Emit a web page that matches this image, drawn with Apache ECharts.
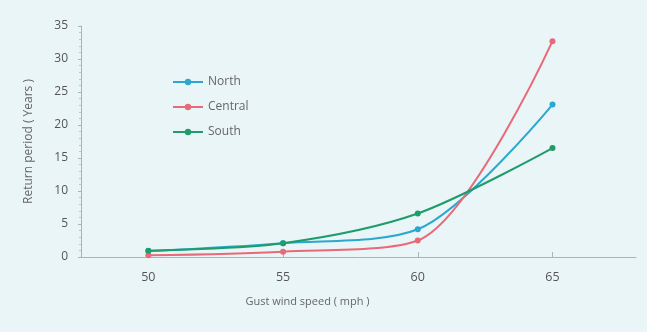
<!DOCTYPE html>
<html><head><meta charset="utf-8">
<script src="https://cdn.jsdelivr.net/npm/echarts@6/dist/echarts.min.js"></script>
<style>html,body{margin:0;padding:0;background:#eaf5f8;}#c{width:647px;height:332px;}</style>
</head><body><div id="c"></div>
<script>
var speeds = [50, 55, 60, 65];
var north = [0.9, 2.1, 4.2, 23.1];
var central = [0.25, 0.8, 2.5, 32.7];
var south = [0.95, 2.1, 6.6, 16.5];
var yTicks = [0, 5, 10, 15, 20, 25, 30, 35];

function pairs(v){ return speeds.map(function(s,i){ return [s, v[i]]; }); }
var font = '"Open Sans", "Noto Sans", sans-serif';
var chart = echarts.init(document.getElementById('c'));
function ser(name, vals, color){
  return {name:name, type:'line', smooth:0.3, data:pairs(vals), symbol:'circle', symbolSize:6,
    lineStyle:{width:2, color:color}, itemStyle:{color:color}, clip:true};
}
chart.setOption({
  backgroundColor:'#eaf5f8',
  animation:false,
  textStyle:{fontFamily:font},
  grid:{left:81, right:11, top:26, bottom:75},
  legend:{orient:'vertical', left:167, top:71, itemGap:13, itemWidth:30, itemHeight:8,
    textStyle:{color:'#666', fontSize:12, fontFamily:font},
    data:['North','Central','South']},
  xAxis:{type:'value', min:47.5, max:68.1,
    name:'Gust wind speed ( mph )', nameLocation:'middle', nameGap:39,
    nameTextStyle:{color:'#666', fontSize:11, fontFamily:font, padding:[0,102,0,0]},
    axisLine:{lineStyle:{color:'#aab4b8'}},
    axisTick:{inside:true, length:5, lineStyle:{color:'#aab4b8'}, customValues:speeds},
    axisLabel:{color:'#555', fontSize:12.5, margin:14, customValues:speeds},
    splitLine:{show:false}},
  yAxis:{type:'value', min:0, max:35, interval:5,
    name:'Return period ( Years )', nameLocation:'middle', nameGap:46,
    nameTextStyle:{color:'#666', fontSize:12, fontFamily:font},
    axisLine:{show:true, lineStyle:{color:'#aab4b8'}},
    axisTick:{show:true, length:3, lineStyle:{color:'#aab4b8'}},
    minorTick:{show:true, splitNumber:5, length:2, lineStyle:{color:'#c0c8cc'}},
    axisLabel:{color:'#555', fontSize:12, margin:13, customValues:yTicks},
    splitLine:{show:false}},
  series:[
    ser('North', north, '#2aa8cf'),
    ser('Central', central, '#e86a78'),
    ser('South', south, '#1e9c6b')
  ]
});
</script></body></html>
